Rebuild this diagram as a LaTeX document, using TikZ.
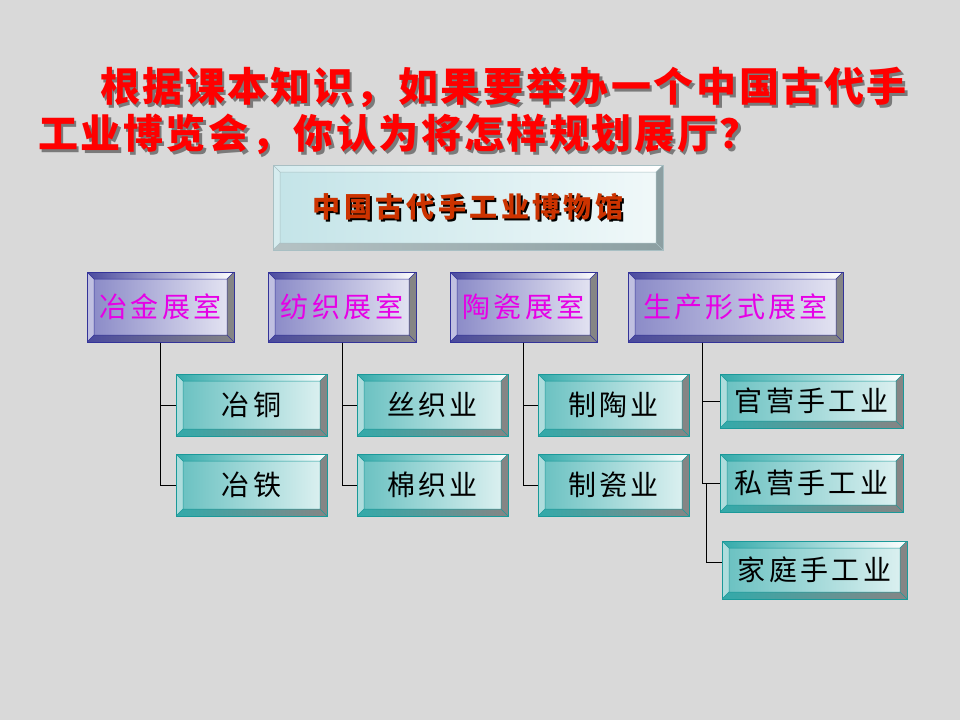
\documentclass[tikz,border=0pt]{standalone}
\usepackage{fontspec}
\usetikzlibrary{calc}
\newfontfamily\cjkask[LetterSpace=6.5]{Noto Sans CJK SC}
\newfontfamily\cjkbox[LetterSpace=12]{Noto Sans CJK SC}

\definecolor{bgray}{HTML}{D9D9D9}
\definecolor{askred}{HTML}{FF0000}
\definecolor{askshadow}{HTML}{7A7A7A}
\definecolor{museumred}{HTML}{CC3300}
\definecolor{museumline}{HTML}{A8BFC3}
\definecolor{museumedge}{HTML}{D6ECEF}
\definecolor{museumface}{HTML}{C4E4E8}
\definecolor{museumgray}{HTML}{8C9FA2}
\definecolor{museumlow}{HTML}{B5C2C4}
\definecolor{hallpink}{HTML}{E600E6}
\definecolor{navyline}{HTML}{333399}
\definecolor{navyedge}{HTML}{4A4A9E}
\definecolor{navyface}{HTML}{8C8CC8}
\definecolor{tealline}{HTML}{1A9999}
\definecolor{tealedge}{HTML}{33AAAA}
\definecolor{tealface}{HTML}{6CC2C2}
\definecolor{bevelgray}{HTML}{858585}

% bevelled face: #1 left, #2 top, #3 right, #4 bottom, #5 face, #6 line
\newcommand\bevelbox[6]{%
  \coordinate (bsw) at (path picture bounding box.south west);
  \coordinate (bne) at (path picture bounding box.north east);
  \coordinate (bnw) at (bsw |- bne);
  \coordinate (bse) at (bne |- bsw);
  \coordinate (isw) at ($(bsw)+(7,7)$);
  \coordinate (ine) at ($(bne)+(-7,-7)$);
  \coordinate (inw) at (isw |- ine);
  \coordinate (ise) at (ine |- isw);
  \shade[left color=#5, middle color=white, right color=white!75!#5] (isw) rectangle (ine);
  \fill[#1] (bsw) -- (bnw) -- (inw) -- (isw) -- cycle;
  \shade[left color=#2, right color=white] (bnw) -- (bne) -- (ine) -- (inw) -- cycle;
  \fill[#3] (bne) -- (bse) -- (ise) -- (ine) -- cycle;
  \shade[left color=#4, right color=#3] (bsw) -- (bse) -- (ise) -- (isw) -- cycle;
  \draw[#6, line width=0.5pt] (isw) rectangle (ine)
    (bsw) -- (isw) (bnw) -- (inw) (bne) -- (ine) (bse) -- (ise);
}
\newcommand\shtext[3]{\rlap{\hspace{#2}\raisebox{-#2}{\color{#1}#3}}#3}

\tikzset{
  asktext/.style={inner sep=0pt, text=askred, font=\cjkask\bfseries\fontsize{40}{40}\selectfont},
  museum/.style={draw=museumline, line width=1pt, inner sep=0pt, minimum width=390, minimum height=85,
    text=museumred, font=\cjkbox\bfseries\fontsize{28}{28}\selectfont,
    path picture={\bevelbox{museumedge}{museumedge}{museumgray}{museumlow}{museumface}{museumline}}},
  hall/.style={draw=navyline, line width=1pt, inner sep=0pt, minimum height=70,
    text=hallpink, font=\cjkbox\fontsize{28}{28}\selectfont,
    path picture={\bevelbox{navyface!55}{navyedge}{bevelgray}{navyedge}{navyface}{navyline}}},
  trade/.style={draw=tealline, line width=1pt, inner sep=0pt, minimum height=62,
    text=black, font=\cjkbox\fontsize{28}{28}\selectfont,
    path picture={\bevelbox{tealface!55}{tealedge}{bevelgray}{tealedge}{tealface}{tealline}}},
  link/.style={draw=black, line width=1pt},
}

\begin{document}
\begin{tikzpicture}[x=1pt,y=1pt]
  \fill[bgray] (0,0) rectangle (960,-720);
  \useasboundingbox (0,0) rectangle (960,-720);

  % question
  \node[asktext, anchor=west] (ask1) at (100,-89) {\shtext{askshadow}{2.5pt}{根据课本知识，如果要举办一个中国古代手}};
  \node[asktext, anchor=west] (ask2) at (38,-136) {\shtext{askshadow}{2.5pt}{工业博览会，你认为将怎样规划展厅？}};

  % museum
  \node[museum] (bowuguan) at (468,-207.5) {\shtext{black}{2pt}{中国古代手工业博物馆}};

  % halls
  \node[hall, minimum width=147] (yejin) at (160.5,-307) {冶金展室};
  \node[hall, minimum width=148] (fangzhi) at (342,-307) {纺织展室};
  \node[hall, minimum width=147] (taoci) at (523.5,-307) {陶瓷展室};
  \node[hall, minimum width=215] (shengchan) at (735.5,-307) {生产形式展室};

  % trades
  \node[trade, minimum width=151] (yetong) at (251.5,-405) {冶铜};
  \node[trade, minimum width=151] (yetie) at (251.5,-485) {冶铁};
  \node[trade, minimum width=151] (sizhi) at (432.5,-405) {丝织业};
  \node[trade, minimum width=151] (mianzhi) at (432.5,-485) {棉织业};
  \node[trade, minimum width=151] (zhitao) at (613.5,-405) {制陶业};
  \node[trade, minimum width=151] (zhici) at (613.5,-485) {制瓷业};
  \node[trade, minimum width=183, minimum height=54] (guanying) at (811.5,-401) {官营手工业};
  \node[trade, minimum width=183, minimum height=58] (siying) at (811.5,-483) {私营手工业};
  \node[trade, minimum width=185, minimum height=58] (jiating) at (814.5,-570) {家庭手工业};

  % connectors
  \draw[link] (yejin.south) |- (yetong.west);
  \draw[link] (yejin.south) |- (yetie.west);
  \draw[link] (fangzhi.south) |- (sizhi.west);
  \draw[link] (fangzhi.south) |- (mianzhi.west);
  \draw[link] (taoci.south) |- (zhitao.west);
  \draw[link] (taoci.south) |- (zhici.west);
  \coordinate (sctop) at ($(shengchan.south west)+(75,0)$);
  \draw[link] (sctop) |- (guanying.west);
  \draw[link] (sctop) |- (siying.west);
  \coordinate (jtfork) at ($(siying.west)+(-13,0)$);
  \draw[link] (jtfork) |- ($(jiating.west)+(0,8)$);
\end{tikzpicture}
\end{document}
